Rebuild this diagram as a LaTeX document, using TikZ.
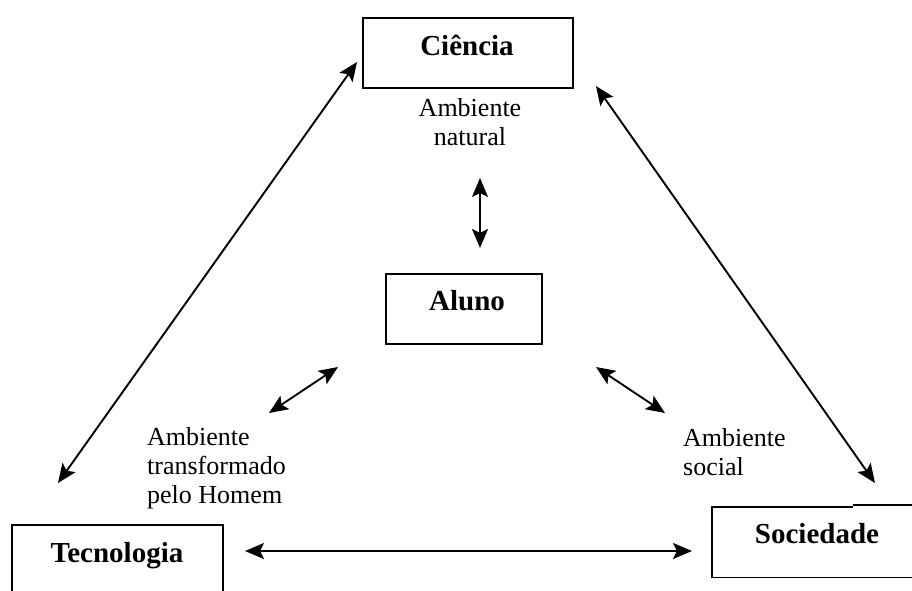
\documentclass[tikz,border=0pt]{standalone}
\usepackage{fontspec}
\setmainfont{Liberation Serif}
\usetikzlibrary{arrows.meta}
\begin{document}
\begin{tikzpicture}[x=1pt,y=-1pt,
  boxline/.style={line width=1.7pt},
  box/.style={draw, boxline, inner sep=0pt, anchor=north west},
  title/.style={font=\fontsize{29}{32}\selectfont\bfseries, anchor=base, inner sep=0pt},
  note/.style={font=\fontsize{26}{29}\selectfont, inner sep=0pt},
  tip/.tip={Stealth[length=19pt,width=16pt,inset=4pt]},
  link/.style={line width=1.9pt, tip-tip}]
\useasboundingbox (0,0) rectangle (912,590);

% boxes
\node[box, minimum width=210pt, minimum height=70pt] (ciencia) at (362,17) {};
\node[box, minimum width=156pt, minimum height=70pt] (aluno) at (385,273) {};
\node[box, minimum width=211pt, minimum height=80pt] (tecnologia) at (11,524) {};
\node[inner sep=0pt, anchor=north west, minimum width=220pt, minimum height=70pt] (sociedade) at (712,507) {};
\draw[boxline] ([xshift=141pt]sociedade.north west) -- (sociedade.north west)
  -- (sociedade.south west) -- (sociedade.south east);
\draw[boxline] ([xshift=141pt,yshift=2pt]sociedade.north west) -- ([yshift=2pt]sociedade.north east);

% box titles
\node[title] (cienciaT) at (467,55) {Ciência};
\node[title] (alunoT) at (467,310) {Aluno};
\node[title] (tecnologiaT) at (117,562) {Tecnologia};
\node[title] (sociedadeT) at (817,543) {Sociedade};

% environment labels (base anchor sits on the last line)
\node[note, align=center, anchor=base] (natural) at (470,145) {Ambiente\\natural};
\node[note, align=left, anchor=base west] (transformado) at (147,503) {Ambiente\\transformado\\pelo Homem};
\node[note, align=left, anchor=base west] (social) at (683,475) {Ambiente\\social};

% connector ends
\coordinate (vA) at (480,178);
\coordinate (vB) at (480,248);
\coordinate (lA) at (338,367);
\coordinate (lB) at (269,413);
\coordinate (rA) at (596,367);
\coordinate (rB) at (665,413);
\coordinate (bigLA) at (357,62);
\coordinate (bigLB) at (58,483);
\coordinate (bigRA) at (596,86);
\coordinate (bigRB) at (875,483);
\coordinate (hA) at (245,551);
\coordinate (hB) at (692,551);

% connectors
\draw[link] (vA) -- (vB);
\draw[link] (lA) -- (lB);
\draw[link] (rA) -- (rB);
\draw[link] (bigLA) -- (bigLB);
\draw[link] (bigRA) -- (bigRB);
\draw[link] (hA) -- (hB);
\end{tikzpicture}
\end{document}
